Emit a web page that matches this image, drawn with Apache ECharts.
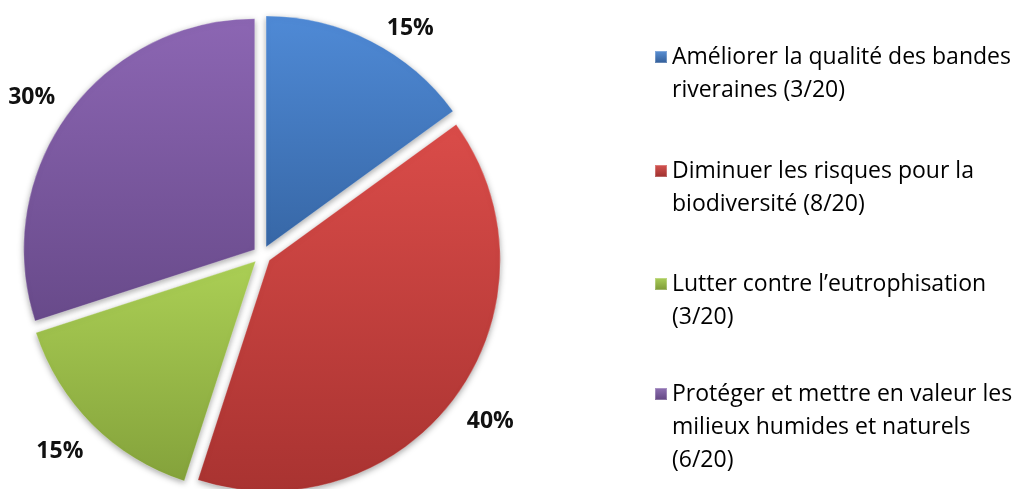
<!DOCTYPE html>
<html><head><meta charset="utf-8">
<script src="https://cdn.jsdelivr.net/npm/echarts@6/dist/echarts.min.js"></script>
<style>html,body{margin:0;padding:0;background:#fff}#c{width:1023px;height:489px}</style>
</head><body><div id="c"></div>
<script>
const categories = [
  "Améliorer la qualité des bandes\nriveraines (3/20)",
  "Diminuer les risques pour la\nbiodiversité (8/20)",
  "Lutter contre l’eutrophisation\n(3/20)",
  "Protéger et mettre en valeur les\nmilieux humides et naturels\n(6/20)"
];
const values = [3, 8, 3, 6];

// layout-only settings
const legendFirstLineY = [57, 171, 284, 394];
const labelNudge = [[23, 19], [5, 4], [-7, 1], [-7, 5]];

const palette = [
  ['#4f8ad6', '#3767a6'],
  ['#da4c49', '#a93331'],
  ['#abcf55', '#84a23b'],
  ['#8c66b3', '#684a8a']
];
const legendPalette = [
  ['#5d93d8', '#2f5a94'],
  ['#d85552', '#9a2e2c'],
  ['#aed25c', '#7a9634'],
  ['#9274b6', '#5f437f']
];
function grad(c){
  return new echarts.graphic.LinearGradient(0,0,0,1,[{offset:0,color:c[0]},{offset:1,color:c[1]}]);
}
const FONT = '"Open Sans", "Noto Sans", sans-serif';
const LH = 33;
const CENTER = [262, 255], R = 231, LABEL_R = 264;

const sliceData = categories.map((n,i)=>({
  name:n, value:values[i], selected:true,
  itemStyle:{color:grad(palette[i])}
}));
const labelData = categories.map((n,i)=>({name:n, value:values[i], selected:true}));

const legends = categories.map((n,i)=>{
  const blanks = n.split('\n').length - 1;
  return {
    orient:'vertical', left:654,
    top: legendFirstLineY[i] - (blanks + 0.5) * LH,
    padding:0, itemWidth:12, itemHeight:12, itemGap:0,
    icon:'rect', selectedMode:false,
    data:[{name:n, itemStyle:{color:grad(legendPalette[i])}}],
    formatter: (name)=> '\n'.repeat(blanks) + name,
    textStyle:{fontFamily:FONT, fontSize:23, color:'#000', lineHeight:LH}
  };
});
const chart = echarts.init(document.getElementById('c'), null, {renderer:'canvas'});
chart.setOption({
  animation:false,
  legend: legends,
  series:[{
    type:'pie', center:CENTER, radius:R, startAngle:90, clockwise:true,
    selectedMode:'multiple', selectedOffset:9, avoidLabelOverlap:false,
    itemStyle:{borderColor:'rgba(255,255,255,0.25)', borderWidth:1, shadowBlur:6, shadowColor:'rgba(0,0,0,0.35)', shadowOffsetY:2},
    label:{show:false}, labelLine:{show:false},
    emphasis:{disabled:true}, silent:true,
    data:sliceData
  },{
    type:'pie', center:CENTER, radius:[LABEL_R, LABEL_R], startAngle:90, clockwise:true,
    selectedMode:'multiple', selectedOffset:9, avoidLabelOverlap:false,
    percentPrecision:0, silent:true,
    itemStyle:{color:'rgba(0,0,0,0)', borderWidth:0},
    label:{show:true, position:'inside', formatter:'{d}%', fontFamily:FONT, fontWeight:'bold', fontSize:23, color:'#111'},
    labelLine:{show:false},
    labelLayout: (p)=>({dx: labelNudge[p.dataIndex][0], dy: labelNudge[p.dataIndex][1]}),
    emphasis:{disabled:true},
    data:labelData
  }]
});
</script></body></html>
